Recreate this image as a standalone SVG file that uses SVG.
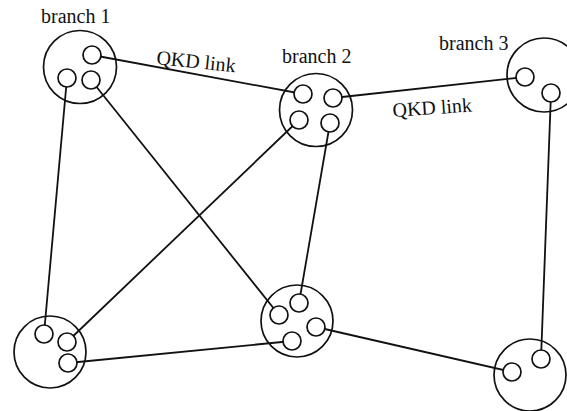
<svg xmlns="http://www.w3.org/2000/svg" width="567" height="411" viewBox="0 0 567 411">
<style>
.big{fill:none;stroke:#111;stroke-width:1.7}
.sm{fill:#fff;stroke:#111;stroke-width:1.7}
.ln{stroke:#111;stroke-width:1.8;fill:none}
.lb{font-family:"Liberation Serif","Times New Roman",serif;font-size:20px;fill:#111}
</style>
<rect width="567" height="411" fill="#fff"/>
<g id="connectors">
<line class="ln" x1="92" y1="55" x2="303" y2="94"/>
<line class="ln" x1="67" y1="78" x2="44" y2="334"/>
<line class="ln" x1="91" y1="80" x2="279" y2="315"/>
<line class="ln" x1="333" y1="98" x2="525" y2="77"/>
<line class="ln" x1="299" y1="120" x2="67" y2="342"/>
<line class="ln" x1="330" y1="123" x2="299" y2="303"/>
<line class="ln" x1="551" y1="93" x2="541" y2="359"/>
<line class="ln" x1="68" y1="363" x2="292" y2="341"/>
<line class="ln" x1="316" y1="327" x2="512" y2="372"/>
<text class="lb" x="156" y="64" transform="rotate(6 156 64)">QKD link</text>
<text class="lb" x="393" y="117" transform="rotate(-4 393 117)">QKD link</text>
</g>
<g id="branch1">
<circle class="big" cx="80" cy="67" r="36.5"/>
<circle class="sm" cx="92" cy="55" r="9"/>
<circle class="sm" cx="67" cy="78" r="9"/>
<circle class="sm" cx="91" cy="80" r="9"/>
<text class="lb" x="41" y="23">branch 1</text>
</g>
<g id="branch2">
<circle class="big" cx="316" cy="110" r="36.5"/>
<circle class="sm" cx="303" cy="94" r="9"/>
<circle class="sm" cx="333" cy="98" r="9"/>
<circle class="sm" cx="299" cy="120" r="9"/>
<circle class="sm" cx="330" cy="123" r="9"/>
<text class="lb" x="282" y="63">branch 2</text>
</g>
<g id="branch3">
<circle class="big" cx="544" cy="75" r="37"/>
<circle class="sm" cx="525" cy="77" r="9"/>
<circle class="sm" cx="551" cy="93" r="9"/>
<text class="lb" x="439" y="50">branch 3</text>
</g>
<g id="node-bottom-left">
<circle class="big" cx="50" cy="352" r="36"/>
<circle class="sm" cx="44" cy="334" r="9"/>
<circle class="sm" cx="67" cy="342" r="9"/>
<circle class="sm" cx="68" cy="363" r="9"/>
</g>
<g id="node-bottom-middle">
<circle class="big" cx="297" cy="321" r="36"/>
<circle class="sm" cx="299" cy="303" r="9"/>
<circle class="sm" cx="279" cy="315" r="9"/>
<circle class="sm" cx="316" cy="327" r="9"/>
<circle class="sm" cx="292" cy="341" r="9"/>
</g>
<g id="node-bottom-right">
<circle class="big" cx="530" cy="375" r="36"/>
<circle class="sm" cx="541" cy="359" r="9"/>
<circle class="sm" cx="512" cy="372" r="9"/>
</g>
</svg>
